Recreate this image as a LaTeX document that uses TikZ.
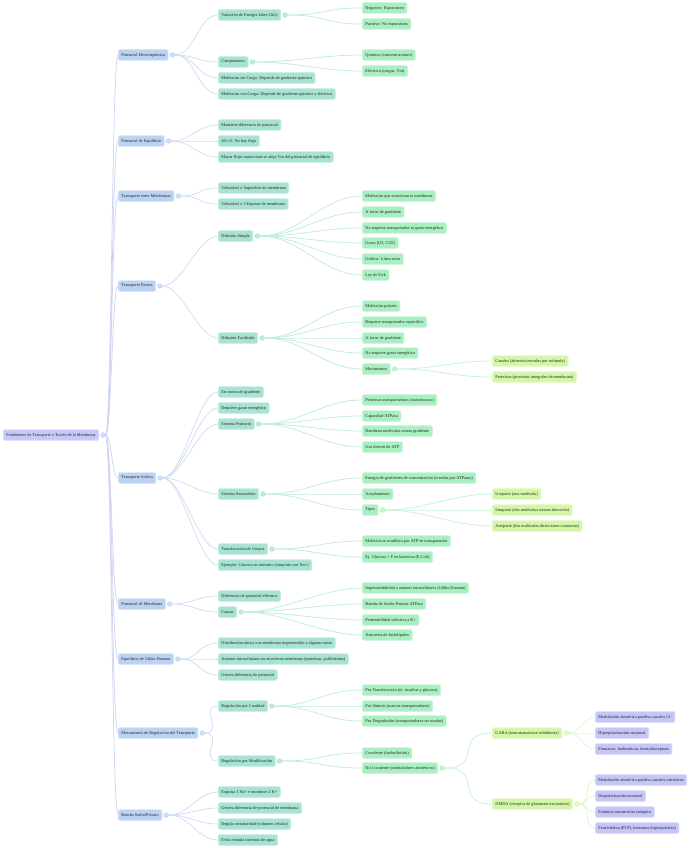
\documentclass[tikz,border=0pt]{standalone}
\usepackage{fontspec}
\usetikzlibrary{backgrounds}
\setmainfont{Liberation Serif}
\newfontfamily\symf{DejaVu Serif}
\newcommand{\prop}{{\symf ∝}}
\definecolor{rfill}{HTML}{C6C9F7}\definecolor{rline}{HTML}{D8DAFA}
\definecolor{afill}{HTML}{BBD3F2}\definecolor{aline}{HTML}{D0E0F7}
\definecolor{bfill}{HTML}{A7E2D2}\definecolor{bline}{HTML}{C0EDE0}
\definecolor{cfill}{HTML}{A9EFC2}\definecolor{cline}{HTML}{C4F5D5}
\definecolor{dfill}{HTML}{D3F7A6}\definecolor{dline}{HTML}{E2FAC4}
\definecolor{efill}{HTML}{C3C6F7}\definecolor{eline}{HTML}{D6D8FA}
\definecolor{lr}{HTML}{CFD5F5}\definecolor{la}{HTML}{D0DDF4}
\definecolor{lb}{HTML}{C0ECDF}\definecolor{lc}{HTML}{C4F3D6}
\definecolor{ld}{HTML}{DDF8CB}
\tikzset{
 box/.style={rounded corners=1.3pt, draw, line width=0.9pt, minimum height=10.5pt,
   inner xsep=3pt, inner ysep=0pt, anchor=west, text=black!85,
   font=\fontsize{4.3}{5}\selectfont},
 lr0/.style={box, fill=rfill, draw=rline},
 la1/.style={box, fill=afill, draw=aline},
 lb2/.style={box, fill=bfill, draw=bline},
 lc3/.style={box, fill=cfill, draw=cline},
 ld4/.style={box, fill=dfill, draw=dline},
 le5/.style={box, fill=efill, draw=eline},
 knob/.style={circle, minimum size=4.6pt, inner sep=0pt, line width=0.5pt},
 kr/.style={knob, fill=rline, draw=rfill},
 ka/.style={knob, fill=aline, draw=afill},
 kb/.style={knob, fill=bline, draw=bfill},
 kc/.style={knob, fill=cline, draw=cfill},
 kd/.style={knob, fill=dline, draw=dfill},
 er/.style={draw=lr, line width=0.75pt},
 ea/.style={draw=la, line width=0.75pt},
 eb/.style={draw=lb, line width=0.75pt},
 ec/.style={draw=lc, line width=0.75pt},
 ed/.style={draw=ld, line width=0.75pt},
}
\begin{document}
\begin{tikzpicture}[x=1pt,y=-1pt]
\useasboundingbox (0,0) rectangle (698,848);
% root
\node[lr0] (r) at (3,435) {Fenómenos de Transporte a Través de la Membrana};
% level 1
\node[la1] (a1) at (118,55) {Potencial Electroquímico};
\node[la1] (a2) at (118,141) {Potencial de Equilibrio};
\node[la1] (a3) at (118,196) {Transporte entre Membranas};
\node[la1] (a4) at (118,286) {Transporte Pasivo};
\node[la1] (a5) at (118,478) {Transporte Activo};
\node[la1] (a6) at (118,604) {Potencial de Membrana};
\node[la1] (a7) at (118,659) {Equilibrio de Gibbs-Donnan};
\node[la1] (a8) at (118,733) {Mecanismos de Regulación del Transporte};
\node[la1] (a9) at (118,815) {Bomba Sodio/Potasio};
% level 2
\node[lb2] (b1) at (218,15) {Variación de Energía Libre (ΔG)};
\node[lb2] (b2) at (218,62) {Componentes};
\node[lb2] (b3) at (218,78) {Moléculas sin Carga: Depende de gradiente químico};
\node[lb2] (b4) at (218,94) {Moléculas con Carga: Depende de gradiente químico y eléctrico};
\node[lb2] (b5) at (218,125) {Mantiene diferencia de potencial};
\node[lb2] (b6) at (218,141) {ΔG=0: No hay flujo};
\node[lb2] (b7) at (218,157) {Mayor flujo cuanto más se aleja Vm del potencial de equilibrio};
\node[lb2] (b8) at (218,188) {Velocidad \prop{} Superficie de membrana};
\node[lb2] (b9) at (218,204) {Velocidad \prop{} 1/Espesor de membrana};
\node[lb2] (b10) at (218,236) {Difusión Simple};
\node[lb2] (b11) at (218,338) {Difusión Facilitada};
\node[lb2] (b12) at (218,392) {En contra de gradiente};
\node[lb2] (b13) at (218,408) {Requiere gasto energético};
\node[lb2] (b14) at (218,424) {Sistema Primario};
\node[lb2] (b15) at (218,494) {Sistema Secundario};
\node[lb2] (b16) at (218,549) {Translocación de Grupos};
\node[lb2] (b17) at (218,565) {Ejemplo: Glucosa en intestino (simporte con Na+)};
\node[lb2] (b18) at (218,596) {Diferencia de potencial eléctrico};
\node[lb2] (b19) at (218,612) {Causas};
\node[lb2] (b20) at (218,643) {Distribución iónica con membrana impermeable a algunos iones};
\node[lb2] (b21) at (218,659) {Aniones intracelulares no atraviesan membrana (proteínas, polifosfatos)};
\node[lb2] (b22) at (218,675) {Genera diferencia de potencial};
\node[lb2] (b23) at (218,706) {Regulación por Cantidad};
\node[lb2] (b24) at (218,761) {Regulación por Modificación};
\node[lb2] (b25) at (218,792) {Expulsa 3 Na+ e introduce 2 K+};
\node[lb2] (b26) at (218,808) {Genera diferencia de potencial de membrana};
\node[lb2] (b27) at (218,824) {Regula osmolaridad (volumen celular)};
\node[lb2] (b28) at (218,840) {Evita entrada continua de agua};
% level 3
\node[lc3] (c1) at (362,8) {Negativo: Espontáneo};
\node[lc3] (c2) at (362,24) {Positivo: No espontáneo};
\node[lc3] (c3) at (362,55) {Químico (concentraciones)};
\node[lc3] (c4) at (362,71) {Eléctrico (cargas, Vm)};
\node[lc3] (c5) at (362,196) {Moléculas que atraviesan la membrana};
\node[lc3] (c6) at (362,212) {A favor de gradiente};
\node[lc3] (c7) at (362,228) {No requiere transportador ni gasto energético};
\node[lc3] (c8) at (362,243) {Gases (O2, CO2)};
\node[lc3] (c9) at (362,259) {Gráfica: Línea recta};
\node[lc3] (c10) at (362,275) {Ley de Fick};
\node[lc3] (c11) at (362,306) {Moléculas polares};
\node[lc3] (c12) at (362,322) {Requiere transportador específico};
\node[lc3] (c13) at (362,338) {A favor de gradiente};
\node[lc3] (c14) at (362,353) {No requiere gasto energético};
\node[lc3] (c15) at (362,369) {Mecanismos};
\node[lc3] (c16) at (362,400) {Proteínas transportadoras (translocasas)};
\node[lc3] (c17) at (362,416) {Capacidad ATPasa};
\node[lc3] (c18) at (362,431) {Bombean moléculas contra gradiente};
\node[lc3] (c19) at (362,447) {Uso directo de ATP};
\node[lc3] (c20) at (362,478) {Energía de gradientes de concentración (creados por ATPasas)};
\node[lc3] (c21) at (362,494) {Acoplamiento};
\node[lc3] (c22) at (362,510) {Tipos};
\node[lc3] (c23) at (362,541) {Molécula se modifica por ATP en transportador};
\node[lc3] (c24) at (362,557) {Ej: Glucosa + P en bacterias (E.Coli)};
\node[lc3] (c25) at (362,588) {Impermeabilidad a aniones intracelulares (Gibbs-Donnan)};
\node[lc3] (c26) at (362,604) {Bomba de Sodio-Potasio-ATPasa};
\node[lc3] (c27) at (362,620) {Permeabilidad selectiva a K+};
\node[lc3] (c28) at (362,635) {Asimetría de fosfolípidos};
\node[lc3] (c29) at (362,690) {Por Translocación (ej: insulina y glucosa)};
\node[lc3] (c30) at (362,706) {Por Síntesis (nuevos transportadores)};
\node[lc3] (c31) at (362,721) {Por Degradación (transportadores no usados)};
\node[lc3] (c32) at (362,753) {Covalente (fosforilación)};
\node[lc3] (c33) at (362,768) {No Covalente (moduladores alostéricos)};
% level 4
\node[ld4] (d1) at (492,361) {Canales (abiertos/cerrados por estímulo)};
\node[ld4] (d2) at (492,377) {Proteínas (proteínas integrales de membrana)};
\node[ld4] (d3) at (492,494) {Uniporte (una molécula)};
\node[ld4] (d4) at (492,510) {Simporte (dos moléculas misma dirección)};
\node[ld4] (d5) at (492,526) {Antiporte (dos moléculas direcciones contrarias)};
\node[ld4] (d6) at (492,733) {GABA (neurotransmisor inhibitorio)};
\node[ld4] (d7) at (492,804) {NMDA (receptor de glutamato excitatorio)};
% level 5
\node[le5] (e1) at (595,717) {Modulación alostérica positiva canales Cl-};
\node[le5] (e2) at (595,733) {Hiperpolarización neuronal};
\node[le5] (e3) at (595,749) {Fármacos: barbitúricos, benzodiacepinas};
\node[le5] (e4) at (595,780) {Modulación alostérica positiva canales catiónicos};
\node[le5] (e5) at (595,796) {Despolarización neuronal};
\node[le5] (e6) at (595,812) {Estimula transmisión sináptica};
\node[le5] (e7) at (595,828) {Fenciclidina (PCP), ketamina (hiperpolariza)};
% knobs
\node[kr] (r-c) at ([xshift=4pt]r.east) {};
\foreach \n in {a1,a2,a3,a4,a5,a6,a7,a8,a9}
  \node[ka] (\n-c) at ([xshift=4pt]\n.east) {};
\foreach \n in {b1,b2,b10,b11,b14,b15,b16,b19,b23,b24}
  \node[kb] (\n-c) at ([xshift=4pt]\n.east) {};
\foreach \n in {c15,c22,c33}
  \node[kc] (\n-c) at ([xshift=4pt]\n.east) {};
\foreach \n in {d6,d7}
  \node[kd] (\n-c) at ([xshift=4pt]\n.east) {};
% connectors
\begin{scope}[on background layer]
\fill[white] (0,0) rectangle (698,848);
\foreach \c in {a1,a2,a3,a4,a5,a6,a7,a8,a9}
  \draw[er] (r-c.east) .. controls +(6,0) and +(-6,0) .. (\c.west);
\foreach \p/\c in {a1/b1,a1/b2,a1/b3,a1/b4,a2/b5,a2/b6,a2/b7,a3/b8,a3/b9,a4/b10,a4/b11,
  a5/b12,a5/b13,a5/b14,a5/b15,a5/b16,a5/b17,a6/b18,a6/b19,a7/b20,a7/b21,a7/b22,
  a8/b23,a8/b24,a9/b25,a9/b26,a9/b27,a9/b28}
  \draw[ea] (\p-c.east) .. controls +(20,0) and +(-20,0) .. (\c.west);
\foreach \p/\c in {b1/c1,b1/c2,b2/c3,b2/c4,b10/c5,b10/c6,b10/c7,b10/c8,b10/c9,b10/c10,
  b11/c11,b11/c12,b11/c13,b11/c14,b11/c15,b14/c16,b14/c17,b14/c18,b14/c19,
  b15/c20,b15/c21,b15/c22,b16/c23,b16/c24,b19/c25,b19/c26,b19/c27,b19/c28,
  b23/c29,b23/c30,b23/c31,b24/c32,b24/c33}
  \draw[eb] (\p-c.east) .. controls +(40,0) and +(-40,0) .. (\c.west);
\foreach \p/\c in {c15/d1,c15/d2,c22/d3,c22/d4,c22/d5,c33/d6,c33/d7}
  \draw[ec] (\p-c.east) .. controls +(40,0) and +(-40,0) .. (\c.west);
\foreach \p/\c in {d6/e1,d6/e2,d6/e3,d7/e4,d7/e5,d7/e6,d7/e7}
  \draw[ed] (\p-c.east) .. controls +(12,0) and +(-12,0) .. (\c.west);
\end{scope}
\end{tikzpicture}
\end{document}
